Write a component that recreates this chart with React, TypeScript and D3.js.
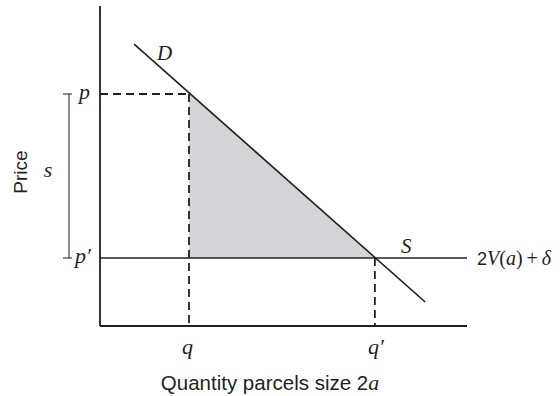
import { useRef, useEffect } from 'react';
import * as d3 from 'd3';

// Quantity / price in abstract units (0..100 on both axes)
const demandQ = [9.3, 88.6];
const demandP = [88.1, 7.5];
const supplyP = 21.25; // p' = 2V(a) + δ
const quantities = [24.25, 74.9]; // q, q'
const prices = [72.5, 21.25]; // p, p'
const qLabels = ['q', 'q′'];
const pLabels = ['p', 'p′'];

const INK = '#231f20';
const SERIF = '"Liberation Serif", "DejaVu Serif", serif';
const SANS = '"Liberation Sans", Arial, sans-serif';

export default function App() {
  const svgRef = useRef<SVGSVGElement>(null);
  const width = 560;
  const height = 396;

  useEffect(() => {
    const svg = d3.select(svgRef.current);
    svg.selectAll('*').remove();

    const x = d3.scaleLinear().domain([0, 100]).range([100, 467]);
    const y = d3.scaleLinear().domain([0, 100]).range([326, 6]);

    const demandAt = (q: number) => {
      const t = (q - demandQ[0]) / (demandQ[1] - demandQ[0]);
      return demandP[0] + t * (demandP[1] - demandP[0]);
    };

    // Shaded surplus triangle
    const tri: [number, number][] = [
      [quantities[0], demandAt(quantities[0])],
      [quantities[0], supplyP],
      [quantities[1], supplyP],
    ];
    svg.append('path')
      .attr('d', d3.line<[number, number]>().x(d => x(d[0])).y(d => y(d[1]))(tri) + 'Z')
      .attr('fill', '#d4d4d6');

    // Dashed guides
    const dash = '8,5';
    svg.append('line')
      .attr('x1', x(0)).attr('x2', x(quantities[0]))
      .attr('y1', y(prices[0])).attr('y2', y(prices[0]))
      .attr('stroke', INK).attr('stroke-width', 1.8).attr('stroke-dasharray', dash);
    quantities.forEach((q, i) => {
      svg.append('line')
        .attr('x1', x(q)).attr('x2', x(q))
        .attr('y1', y(prices[i])).attr('y2', y(0))
        .attr('stroke', INK).attr('stroke-width', 1.8).attr('stroke-dasharray', dash);
    });

    // Axes
    svg.append('line')
      .attr('x1', x(0)).attr('x2', x(0)).attr('y1', y(100)).attr('y2', y(0))
      .attr('stroke', INK).attr('stroke-width', 1.8);
    svg.append('line')
      .attr('x1', x(0)).attr('x2', x(100)).attr('y1', y(0)).attr('y2', y(0))
      .attr('stroke', INK).attr('stroke-width', 1.8);

    // Supply (horizontal) and demand
    svg.append('line')
      .attr('x1', x(0)).attr('x2', x(100)).attr('y1', y(supplyP)).attr('y2', y(supplyP))
      .attr('stroke', INK).attr('stroke-width', 1.6);
    svg.append('line')
      .attr('x1', x(demandQ[0])).attr('x2', x(demandQ[1]))
      .attr('y1', y(demandP[0])).attr('y2', y(demandP[1]))
      .attr('stroke', INK).attr('stroke-width', 1.6);

    // Bracket for s
    const bx = 69;
    svg.append('line')
      .attr('x1', bx).attr('x2', bx).attr('y1', y(prices[0])).attr('y2', y(prices[1]))
      .attr('stroke', INK).attr('stroke-width', 1);
    prices.forEach(p => {
      svg.append('line')
        .attr('x1', bx - 6).attr('x2', bx + 3).attr('y1', y(p)).attr('y2', y(p))
        .attr('stroke', INK).attr('stroke-width', 1);
    });
    svg.append('text')
      .attr('x', 48).attr('y', 177)
      .attr('text-anchor', 'middle')
      .attr('font-family', SERIF).attr('font-style', 'italic').attr('font-size', 22)
      .attr('fill', INK).text('s');

    // Price labels
    prices.forEach((p, i) => {
      svg.append('text')
        .attr('x', i === 0 ? 79 : 75).attr('y', y(p) + 5)
        .attr('font-family', SERIF).attr('font-style', 'italic').attr('font-size', 22)
        .attr('fill', INK).text(pLabels[i]);
    });

    // Quantity labels
    quantities.forEach((q, i) => {
      svg.append('text')
        .attr('x', x(q) - 7).attr('y', 354)
        .attr('font-family', SERIF).attr('font-style', 'italic').attr('font-size', 22)
        .attr('fill', INK).text(qLabels[i]);
    });

    // Curve labels
    svg.append('text')
      .attr('x', 157).attr('y', 60)
      .attr('font-family', SERIF).attr('font-style', 'italic').attr('font-size', 21)
      .attr('fill', INK).text('D');
    svg.append('text')
      .attr('x', 401).attr('y', 253)
      .attr('font-family', SERIF).attr('font-style', 'italic').attr('font-size', 21)
      .attr('fill', INK).text('S');

    const sl = svg.append('text')
      .attr('x', 477).attr('y', y(supplyP) + 7)
      .attr('font-family', SERIF).attr('font-size', 20).attr('fill', INK);
    sl.append('tspan').attr('font-family', SANS).attr('font-size', 18).text('2');
    sl.append('tspan').attr('font-style', 'italic').text('V');
    sl.append('tspan').text('(');
    sl.append('tspan').attr('font-style', 'italic').text('a');
    sl.append('tspan').text(')\u2009+\u2009');
    sl.append('tspan').attr('font-style', 'italic').text('δ');

    // Axis titles
    const xt = svg.append('text')
      .attr('x', 270).attr('y', 390)
      .attr('text-anchor', 'middle')
      .attr('font-family', SANS).attr('font-size', 20.5).attr('fill', INK);
    xt.append('tspan').text('Quantity parcels size 2');
    xt.append('tspan').attr('font-family', SERIF).attr('font-style', 'italic').attr('font-size', 22).text('a');

    svg.append('text')
      .attr('transform', 'translate(27,172) rotate(-90)')
      .attr('text-anchor', 'middle')
      .attr('font-family', SANS).attr('font-size', 19).attr('fill', INK)
      .text('Price');
  }, []);

  return (
    <div style={{ position: 'absolute', left: 0, top: 0 }}>
      <svg ref={svgRef} width={width} height={height} style={{ display: 'block', background: '#fff' }} />
    </div>
  );
}
